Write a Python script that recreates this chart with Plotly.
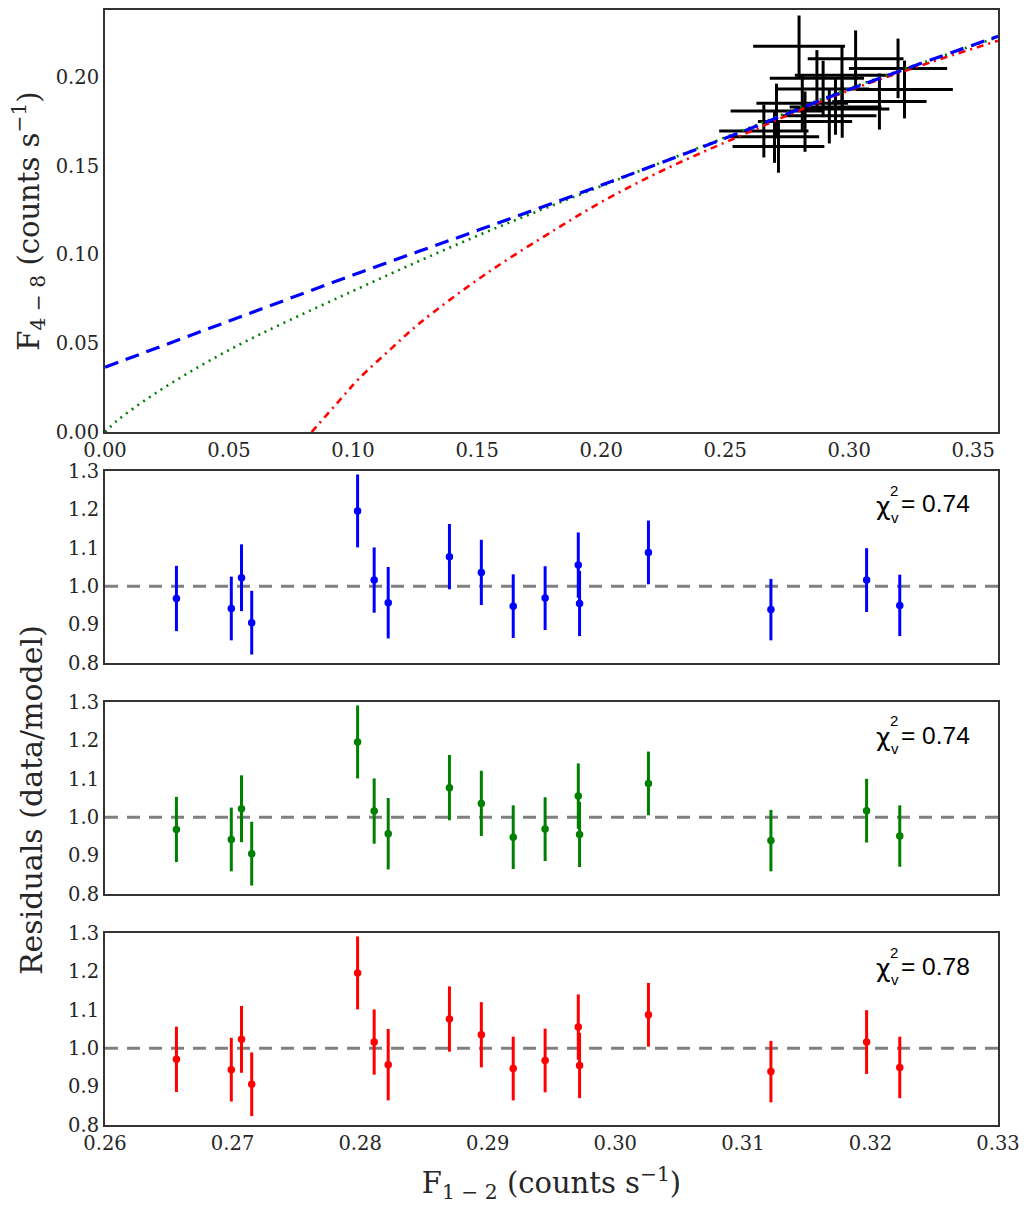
import plotly.graph_objects as go

# ---------------- data ----------------
# soft-band flux (F_1-2) of each observation
f12 = [0.2656, 0.2699, 0.2707, 0.2715, 0.2798, 0.2811, 0.2822, 0.2870, 0.2895,
       0.2920, 0.2945, 0.2971, 0.2972, 0.3026, 0.3122, 0.3197, 0.3223]
f12_err = [0.0180, 0.0180, 0.0185, 0.0185, 0.0185, 0.0185, 0.0190, 0.0190, 0.0185,
           0.0190, 0.0185, 0.0190, 0.0190, 0.0193, 0.0190, 0.0198, 0.0195]
# hard-band flux (F_4-8)
f48 = [0.1696, 0.1664, 0.1809, 0.1609, 0.2174, 0.1853, 0.1749, 0.1994, 0.1933,
       0.1782, 0.1832, 0.2010, 0.1820, 0.2103, 0.1862, 0.2049, 0.1930]
f48_err = [0.0149, 0.0147, 0.0154, 0.0148, 0.0173, 0.0155, 0.0170, 0.0158, 0.0159,
           0.0156, 0.0157, 0.0162, 0.0162, 0.0160, 0.0158, 0.0168, 0.0163]

# model curves (sampled from the figure)
blue_x = [0.0, 0.05, 0.10, 0.15, 0.20, 0.25, 0.30, 0.36]
blue_y = [0.0365, 0.0625, 0.0885, 0.1135, 0.1390, 0.1655, 0.1930, 0.2230]
green_x = [0.0, 0.005, 0.02, 0.05, 0.10, 0.15, 0.20, 0.25, 0.30, 0.36]
green_y = [0.0, 0.0065, 0.0215, 0.0462, 0.0795, 0.1105, 0.1385, 0.1660, 0.1935, 0.2225]
red_x = [0.0833, 0.095, 0.102, 0.115, 0.127, 0.154, 0.182, 0.20, 0.222, 0.253, 0.30, 0.36]
red_y = [0.0, 0.0185, 0.0295, 0.0465, 0.0615, 0.0895, 0.1145, 0.1295, 0.1455, 0.1650, 0.1925, 0.2205]

# residuals (data/model) for the three models
res_blue = [0.968, 0.942, 1.022, 0.905, 1.196, 1.016, 0.957, 1.077, 1.036,
            0.948, 0.969, 1.055, 0.955, 1.088, 0.939, 1.016, 0.950]
res_green = [0.968, 0.942, 1.022, 0.905, 1.196, 1.016, 0.957, 1.077, 1.036,
             0.948, 0.969, 1.055, 0.955, 1.088, 0.939, 1.017, 0.951]
res_red = [0.971, 0.944, 1.023, 0.906, 1.196, 1.016, 0.957, 1.076, 1.035,
           0.947, 0.968, 1.055, 0.955, 1.087, 0.939, 1.016, 0.950]
res_err = [0.085, 0.083, 0.087, 0.083, 0.095, 0.085, 0.093, 0.085, 0.085,
           0.083, 0.083, 0.085, 0.085, 0.083, 0.080, 0.083, 0.080]
chi2 = ["0.74", "0.74", "0.78"]
ref_level = 1.0

top_xticks = [0.00, 0.05, 0.10, 0.15, 0.20, 0.25, 0.30, 0.35]
top_yticks = [0.00, 0.05, 0.10, 0.15, 0.20]
res_xticks = [0.26, 0.27, 0.28, 0.29, 0.30, 0.31, 0.32, 0.33]
res_yticks = [0.8, 0.9, 1.0, 1.1, 1.2, 1.3]

# ---------------- figure ----------------
W, H = 1026, 1205
ML, MR, MT, MB = 105, 28, 10, 80
PW = W - ML - MR
PH = H - MT - MB


def py(pix):
    return (H - MB - pix) / PH


def px(pix):
    return (pix - ML) / PW


SERIF = "DejaVu Serif"
TXT = "#262626"
FRAME = "#333333"

fig = go.Figure()

# data crosses
fig.add_trace(go.Scatter(
    x=f12, y=f48, mode="markers", marker=dict(size=1, color="black", opacity=0),
    error_x=dict(type="data", array=f12_err, width=0, thickness=3, color="black"),
    error_y=dict(type="data", array=f48_err, width=0, thickness=3, color="black"),
    xaxis="x", yaxis="y", showlegend=False, hoverinfo="skip"))

fig.add_trace(go.Scatter(x=red_x, y=red_y, mode="lines", line_shape="spline",
                         line=dict(color="#ff0000", width=2.6, dash="7px,5px,2px,5px"),
                         xaxis="x", yaxis="y", showlegend=False))
fig.add_trace(go.Scatter(x=green_x, y=green_y, mode="lines", line_shape="spline",
                         line=dict(color="#008000", width=2.6, dash="2px,5px"),
                         xaxis="x", yaxis="y", showlegend=False))
fig.add_trace(go.Scatter(x=blue_x, y=blue_y, mode="lines", line_shape="spline",
                         line=dict(color="#0000ff", width=3.2, dash="14px,8px"),
                         xaxis="x", yaxis="y", showlegend=False))

res_sets = [(res_blue, "#0000ff", "2"), (res_green, "#008000", "3"), (res_red, "#ff0000", "4")]
for res, col, k in res_sets:
    fig.add_trace(go.Scatter(
        x=f12, y=res, mode="markers", marker=dict(size=7.5, color=col),
        error_y=dict(type="data", array=res_err, width=0, thickness=3, color=col),
        xaxis="x" + k, yaxis="y" + k, showlegend=False))
    fig.add_shape(type="line", xref="x" + k + " domain", yref="y" + k,
                  x0=0, x1=1, y0=ref_level, y1=ref_level, layer="below",
                  line=dict(color="#808080", width=3, dash="13px,9px"))

tickfont = dict(family=SERIF, size=19.5, color=TXT)
axcommon = dict(showline=True, mirror=True, linecolor=FRAME, linewidth=2,
                showgrid=False, zeroline=False, ticks="", tickfont=tickfont)

panel_pix = [(471, 663), (702, 894), (933, 1125)]
TITLE_FONT = dict(family=SERIF, size=29, color=TXT)

layout = dict(
    width=W, height=H, margin=dict(l=ML, r=MR, t=MT, b=MB, autoexpand=False),
    paper_bgcolor="white", plot_bgcolor="white",
    xaxis=dict(domain=[0, 1], anchor="y", range=[0, 0.36],
               tickvals=top_xticks, ticktext=[f"{v:.2f}" for v in top_xticks], **axcommon),
    yaxis=dict(domain=[py(432), 1], anchor="x", range=[0, 0.2378],
               tickvals=top_yticks, ticktext=[f"{v:.2f}" for v in top_yticks],
               title=dict(text="F<sub>4 − 8</sub> (counts s<sup>−1</sup>)",
                          font=TITLE_FONT, standoff=8),
               **axcommon),
)
for i, (t, b) in enumerate(panel_pix):
    k = str(i + 2)
    layout["xaxis" + k] = dict(domain=[0, 1], anchor="y" + k, range=[0.26, 0.33],
                               tickvals=res_xticks,
                               ticktext=[f"{v:.2f}" for v in res_xticks],
                               showticklabels=(i == 2), **axcommon)
    layout["yaxis" + k] = dict(domain=[py(b), py(t)], anchor="x" + k, range=[0.8, 1.3],
                               tickvals=res_yticks,
                               ticktext=[f"{v:.1f}" for v in res_yticks], **axcommon)
layout["xaxis4"]["title"] = dict(text="F<sub>1 − 2</sub> (counts s<sup>−1</sup>)",
                                 font=TITLE_FONT, standoff=18)

fig.update_layout(**layout)

annots = [dict(text="Residuals (data/model)", xref="paper", yref="paper",
               x=px(31), y=py(800), xanchor="center", yanchor="middle",
               textangle=-90, showarrow=False,
               font=dict(family=SERIF, size=30, color=TXT))]
SANS = "Liberation Sans"
for i, (t, b) in enumerate(panel_pix):
    annots.append(dict(text="χ", xref="paper", yref="paper", x=px(883), y=py(t + 35),
                       xanchor="center", yanchor="middle", showarrow=False,
                       font=dict(family="DejaVu Sans", size=25, color="black")))
    annots.append(dict(text="2", xref="paper", yref="paper", x=px(894), y=py(t + 19),
                       xanchor="center", yanchor="middle", showarrow=False,
                       font=dict(family=SANS, size=15, color="black")))
    annots.append(dict(text="v", xref="paper", yref="paper", x=px(895), y=py(t + 46),
                       xanchor="center", yanchor="middle", showarrow=False,
                       font=dict(family=SANS, size=15, color="black")))
    annots.append(dict(text="= " + chi2[i], xref="paper", yref="paper", x=px(899),
                       y=py(t + 33), xanchor="left", yanchor="middle", showarrow=False,
                       font=dict(family=SANS, size=24.5, color="black")))
fig.update_layout(annotations=annots)

fig.write_html("out.html")
